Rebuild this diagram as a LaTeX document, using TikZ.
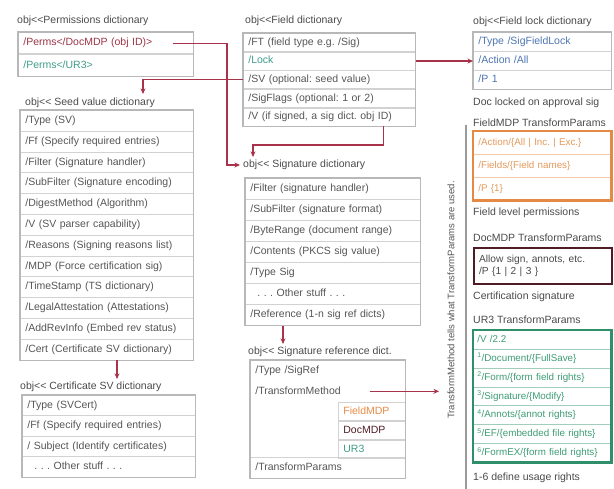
\documentclass[tikz,border=0pt]{standalone}
\usepackage{fontspec}
\setmainfont{Liberation Sans}
\usetikzlibrary{arrows.meta,fit}
\frenchspacing
\definecolor{txt}{HTML}{555555}
\definecolor{ttlc}{HTML}{4A4A4A}
\definecolor{rowline}{HTML}{D2D2D2}
\definecolor{boxline}{HTML}{B8B8B8}
\definecolor{connred}{HTML}{A8324A}
\definecolor{permred}{HTML}{9C3345}
\definecolor{teal1}{HTML}{3E9C86}
\definecolor{lockblue}{HTML}{4D74B0}
\definecolor{orng}{HTML}{E58A45}
\definecolor{orngtxt}{HTML}{E39A5A}
\definecolor{docm}{HTML}{4E1C24}
\definecolor{grn}{HTML}{2F8F6A}
\definecolor{grntxt}{HTML}{3C9C74}
\definecolor{vline}{HTML}{9A9A9A}
\begin{document}
\begin{tikzpicture}[x=1pt,y=-1pt,
  every node/.style={font=\fontsize{10.5}{12.5}\selectfont, text=txt},
  ttl/.style={anchor=west, inner sep=0pt, text=ttlc},
  drow/.style 2 args={draw=rowline, line width=0.7pt, anchor=north west, inner xsep=5pt, inner ysep=0pt,
    text width=#1, minimum height=#2, align=left, text height=8pt, text depth=2.5pt},
  rcol/.style={font=\fontsize{9.8}{12}\selectfont},
  dbox/.style={draw=boxline, line width=1.1pt, inner sep=0pt, fit=#1},
  link/.style={draw=connred, line width=1.1pt, -{Stealth[length=5.5pt,width=5pt]}},
  vl/.style={draw=vline, line width=2.5pt},
]
\useasboundingbox (0,0) rectangle (614,489);

% ---------- Permissions dictionary
\node[ttl] (permst) at (17,21) {obj<{}<Permissions dictionary};
\node[drow={165pt}{21.5pt}, text=permred] (perms1) at (18,32) {/Perms</DocMDP (obj ID)>};
\node[drow={165pt}{21.5pt}, text=teal1] (perms2) at (perms1.south west) {/Perms</UR3>};
\node[dbox=(perms1)(perms2)] (permsbox) {};

% ---------- Field dictionary
\node[ttl] (fieldt) at (245,21) {obj<{}<Field dictionary};
\node[drow={162pt}{18pt}] (f1) at (243,33) {/FT (field type e.g. /Sig)};
\node[drow={162pt}{18pt}, text=teal1] (f2) at (f1.south west) {/Lock};
\node[drow={162pt}{18pt}] (f3) at (f2.south west) {/SV (optional: seed value)};
\node[drow={162pt}{18pt}] (f4) at (f3.south west) {/SigFlags (optional: 1 or 2)};
\node[drow={162pt}{18pt}] (f5) at (f4.south west) {/V (if signed, a sig dict. obj ID)};
\node[dbox=(f1)(f5)] (fieldbox) {};

% ---------- Field lock dictionary
\node[ttl] (lockt) at (473,22) {obj<{}<Field lock dictionary};
\foreach \t [count=\i] in {{/Type /SigFieldLock},{/Action /All},{/P 1}}
  \node[drow={128pt}{19pt}, text=lockblue] (lk\i) at (473,{32+(\i-1)*19}) {\t};
\node[dbox=(lk1)(lk3)] (lockbox) {};
\node[ttl] (lockcap) at (473,103) {Doc locked on approval sig};

% ---------- Seed value dictionary
\node[ttl] (svt) at (25,103) {obj<{}< Seed value dictionary};
\foreach \t [count=\i] in {{/Type (SV)},{/Ff (Specify required entries)},{/Filter (Signature handler)},{/SubFilter (Signature encoding)},{/DigestMethod (Algorithm)},{/V (SV parser capability)},{/Reasons (Signing reasons list)},{/MDP (Force certification sig)},{/TimeStamp (TS dictionary)},{/LegalAttestation (Attestations)},{/AddRevInfo (Embed rev status)},{/Cert (Certificate SV dictionary)}}
  \node[drow={163pt}{20.8pt}] (sv\i) at (20,{110+(\i-1)*20.8}) {\t};
\node[dbox=(sv1)(sv12)] (svbox) {};

% ---------- Certificate SV dictionary
\node[ttl] (certt) at (20,387) {obj<{}< Certificate SV dictionary};
\foreach \t [count=\i] in {{/Type (SVCert)},{/Ff (Specify required entries)},{/ Subject (Identify certificates)},{\ \ . . . Other stuff . . .}}
  \node[drow={163pt}{20.5pt}] (ce\i) at (22,{395+(\i-1)*20.5}) {\t};
\node[dbox=(ce1)(ce4)] (certbox) {};

% ---------- Signature dictionary
\node[ttl] (sigt) at (243,165) {obj<{}< Signature dictionary};
\foreach \t [count=\i] in {{/Filter (signature handler)},{/SubFilter (signature format)},{/ByteRange (document range)},{/Contents (PKCS sig value)},{/Type Sig},{\ \ . . . Other stuff . . .},{/Reference (1-n sig ref dicts)}}
  \node[drow={165pt}{21pt}] (sd\i) at (245,{178+(\i-1)*21}) {\t};
\node[dbox=(sd1)(sd7)] (sigbox) {};

% ---------- Signature reference dictionary
\node[ttl] (reft) at (248,352) {obj<{}< Signature reference dict.};
\node[drow={145pt}{20pt}, draw=none] (ref1) at (250,360) {/Type /SigRef};
\node[drow={145pt}{22pt}, draw=none] (ref2) at (250,380) {/TransformMethod};
\node[drow={57pt}{18.33pt}, text=orng] (rs1) at (338,402) {FieldMDP};
\node[drow={57pt}{18.33pt}, text=docm] (rs2) at (rs1.south west) {DocMDP};
\node[drow={57pt}{18.33pt}, text=teal1] (rs3) at (rs2.south west) {UR3};
\node[drow={145pt}{21pt}] (ref3) at (250,457) {/TransformParams};
\node[dbox=(ref1)(ref3)] (refbox) {};

% ---------- right column
\draw[vl] (466,125) -- (466,489);
\node[rotate=90, font=\fontsize{9.5}{11}\selectfont] (vtext) at (451,300) {TransformMethod tells what TransformParams are used.};

\node[ttl] (fmdpt) at (473,123) {FieldMDP TransformParams};
\foreach \t [count=\i] in {{/Action/\{All | Inc. | Exc.\}},{/Fields/\{Field names\}},{/P \{1\}}}
  \node[drow={128pt}{23pt}, rcol, draw=orng!45, text=orngtxt] (fm\i) at (473,{131+(\i-1)*23}) {\t};
\node[draw=orng, line width=2.6pt, inner sep=0pt, fit=(fm1)(fm3)] (fmbox) {};
\node[ttl] (fmcap) at (473,213) {Field level permissions};

\node[ttl] (dmdpt) at (473,238) {DocMDP TransformParams};
\node[draw=docm, line width=2.2pt, anchor=north west, text width=128pt, inner xsep=5pt,
  minimum height=36pt, align=left, font=\fontsize{10.2}{12.5}\selectfont, text=ttlc] (docbox) at (473,247)
  {Allow sign, annots, etc.\\/P \{1 | 2 | 3 \}};
\node[ttl] (dmcap) at (473,297) {Certification signature};

\node[ttl] (urt) at (473,320) {UR3 TransformParams};
\foreach \t [count=\i] in {{/V /2.2},{\textsuperscript{1}/Document/\{FullSave\}},{\textsuperscript{2}/Form/\{form field rights\}},{\textsuperscript{3}/Signature/\{Modify\}},{\textsuperscript{4}/Annots/\{annot rights\}},{\textsuperscript{5}/EF/\{embedded file rights\}},{\textsuperscript{6}/FormEX/\{form field rights\}}}
  \node[drow={130pt}{18.86pt}, rcol, inner xsep=4pt, draw=grn!45, text=grntxt] (ur\i) at (473,{330+(\i-1)*18.86}) {\t};
\node[draw=grn, line width=2.8pt, inner sep=0pt, fit=(ur1)(ur7)] (urbox) {};
\node[ttl] (urcap) at (473,478) {1-6 define usage rights};

% ---------- connectors
\coordinate (px) at (227,0);
\coordinate (sx) at (143,0);
\coordinate (vturn) at (253,145);
\coordinate (tmx) at (439,0);
\draw[link] ([xshift=-21pt]perms1.east) -| (px |- sigt.west) -- ([xshift=-3pt]sigt.west);
\draw[link] (f3.west) -| ([yshift=4pt]sx |- svt.north);
\draw[link] ([xshift=-32pt]f5.south east) |- (vturn) -- ([yshift=3pt]vturn |- sigt.north);
\draw[link] (f2.east) -- (f2.east -| lk2.west);
\draw[link] ([xshift=38pt]sd7.south west) -- ([xshift=38pt,yshift=3pt]sd7.south west |- reft.north);
\draw[link] ([xshift=97pt]sv12.south west) -- ([xshift=97pt,yshift=3pt]sv12.south west |- certt.north);
\draw[link] ([xshift=120pt]ref2.west) -- (ref2.west -| tmx);
\end{tikzpicture}
\end{document}
